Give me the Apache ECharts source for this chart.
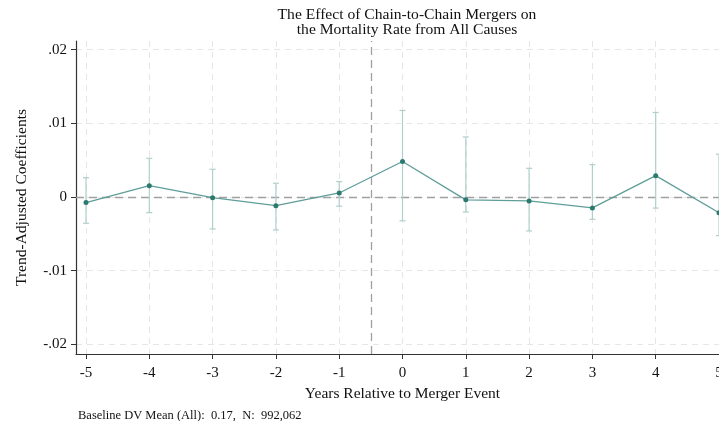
<!DOCTYPE html>
<html>
<head>
<meta charset="utf-8">
<script src="https://cdn.jsdelivr.net/npm/echarts@6/dist/echarts.min.js"></script>
<style>html,body{margin:0;padding:0;background:#fff;}#c{width:719px;height:421px;}</style>
</head>
<body>
<div id="c"></div>
<script>
// ---- data ----
const years = [-5, -4, -3, -2, -1, 0, 1, 2, 3, 4, 5];
const coef = [-0.00077, 0.00153, -0.0001, -0.00118, 0.00054, 0.00481, -0.00039, -0.00054, -0.00149, 0.00289, -0.00213];
const ciLow = [-0.00357, -0.00213, -0.00434, -0.00448, -0.00126, -0.00324, -0.00205, -0.00461, -0.00303, -0.00151, -0.00525];
const ciHigh = [0.00262, 0.00525, 0.00376, 0.00186, 0.00208, 0.01174, 0.00814, 0.00389, 0.00438, 0.01147, 0.0058];
const yTicks = [-0.02, -0.01, 0, 0.01, 0.02];
const xTicks = [-5, -4, -3, -2, -1, 0, 1, 2, 3, 4, 5];
const eventLine = -0.5;
const titleText = 'The Effect of Chain-to-Chain Mergers on\nthe Mortality Rate from All Causes';
const noteText = 'Baseline DV Mean (All):  0.17,  N:  992,062';

const FONT = '"Liberation Serif", "DejaVu Serif", serif';
const chart = echarts.init(document.getElementById('c'), null, {renderer: 'canvas'});

function yFmt(v) {
  const r = Math.round(v * 1000) / 1000;
  if (r === 0) return '0';
  return String(r).replace('0.', '.');
}

const gridLine = {show: true, lineStyle: {color: '#e6e6e6', type: [6, 5], width: 1}};

chart.setOption({
  animation: false,
  backgroundColor: '#ffffff',
  title: [
    {text: titleText, left: 402, top: 2, textAlign: 'center',
     textStyle: {fontFamily: FONT, fontSize: 15.6, fontWeight: 'normal', color: '#111', lineHeight: 15}},
    {text: noteText, left: 73, top: 404,
     textStyle: {fontFamily: FONT, fontSize: 12.5, fontWeight: 'normal', color: '#111'}}
  ],
  grid: {left: 76, width: 653, top: 41, height: 313, containLabel: false, outerBoundsMode: 'none'},
  xAxis: {
    type: 'value', min: -5.158, max: 5.158,
    name: 'Years Relative to Merger Event', nameLocation: 'middle', nameGap: 32,
    nameTextStyle: {fontFamily: FONT, fontSize: 15.5, color: '#111'},
    axisLine: {show: true, onZero: false, lineStyle: {color: '#333', width: 1.2}},
    axisTick: {show: true, length: 5, customValues: xTicks, lineStyle: {color: '#333'}},
    axisLabel: {customValues: xTicks, fontFamily: FONT, fontSize: 15, color: '#111', margin: 12},
    splitLine: Object.assign({customValues: xTicks}, gridLine)
  },
  yAxis: {
    type: 'value', min: -0.02132, max: 0.02117,
    name: 'Trend-Adjusted Coefficients', nameLocation: 'middle', nameGap: 46,
    nameTextStyle: {fontFamily: FONT, fontSize: 15.5, color: '#111'},
    axisLine: {show: true, onZero: false, lineStyle: {color: '#333', width: 1.2}},
    axisTick: {show: true, length: 5, customValues: yTicks, lineStyle: {color: '#333'}},
    axisLabel: {customValues: yTicks, formatter: yFmt, fontFamily: FONT, fontSize: 15, color: '#111', margin: 9},
    splitLine: Object.assign({customValues: yTicks}, gridLine)
  },
  series: [
    {
      type: 'custom',
      name: 'ci',
      data: years.map((x, i) => [x, ciLow[i], ciHigh[i]]),
      renderItem: function (params, api) {
        const x = api.value(0);
        const lo = api.coord([x, api.value(1)]);
        const hi = api.coord([x, api.value(2)]);
        const cw = 3;
        const st = {stroke: '#b0cfcc', lineWidth: 1.2};
        return {type: 'group', children: [
          {type: 'line', shape: {x1: lo[0], y1: lo[1], x2: hi[0], y2: hi[1]}, style: st},
          {type: 'line', shape: {x1: lo[0] - cw, y1: lo[1], x2: lo[0] + cw, y2: lo[1]}, style: st},
          {type: 'line', shape: {x1: hi[0] - cw, y1: hi[1], x2: hi[0] + cw, y2: hi[1]}, style: st}
        ]};
      },
      z: 2
    },
    {
      type: 'line',
      name: 'coef',
      data: years.map((x, i) => [x, coef[i]]),
      symbol: 'circle', symbolSize: 5,
      lineStyle: {color: '#5f9e98', width: 1.3},
      itemStyle: {color: '#2a7a70'},
      z: 4,
      markLine: {
        silent: true, symbol: 'none', label: {show: false},
        lineStyle: {color: '#a0a0a0', type: [8, 5], width: 1.3},
        data: [{yAxis: 0}, {xAxis: eventLine}],
        z: 1
      }
    }
  ]
});
</script>
</body>
</html>
